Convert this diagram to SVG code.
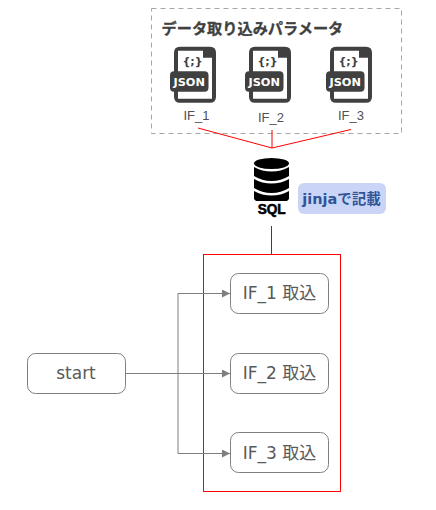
<svg xmlns="http://www.w3.org/2000/svg" width="436" height="510" viewBox="0 0 436 510">
<style>
.node{fill:#fff;stroke:#7f7f7f;stroke-width:1}
.lbl{font-family:"DejaVu Sans","Noto Sans CJK JP",sans-serif;font-size:17px;fill:#595959;text-anchor:middle}
.cap{font-family:"Liberation Sans",sans-serif;font-size:13px;fill:#505050;text-anchor:middle}
.red{fill:none;stroke:#f00;stroke-width:1}
.conn{fill:none;stroke:#7f7f7f;stroke-width:1}
.ic{fill:#404040}
</style>
<defs>
<marker id="arrow" markerUnits="userSpaceOnUse" markerWidth="9" markerHeight="8" refX="8" refY="4" orient="auto"><path d="M0 0L8 4L0 8Z" fill="#7f7f7f"/></marker>
<g id="json">
<path d="M4 0H36Q42 0 42 6V50Q42 56 36 56H6Q0 56 0 50V6Q0 0 6 0Z" class="ic"/>
<path d="M4 4H29V11H38V52H4Z" fill="#fff"/>
<rect x="-4" y="24.500" width="38.500" height="20.500" rx="4" class="ic"/>
<text x="15.200" y="39.300" font-family="DejaVu Sans,sans-serif" font-size="11.300" font-weight="700" fill="#fff" text-anchor="middle" textLength="31.500" lengthAdjust="spacingAndGlyphs">JSON</text>
<text x="18.500" y="18.500" font-family="DejaVu Sans,sans-serif" font-size="11" font-weight="700" fill="#404040" text-anchor="middle">{;}</text>
</g>
</defs>
<g id="params">
<rect x="151.500" y="8.500" width="250" height="125" fill="#fff" stroke="#a6a6a6" stroke-dasharray="5 4"/>
<text x="161.500" y="33.500" font-family="Noto Sans CJK JP,sans-serif" font-size="15.200" font-weight="700" fill="#404040" stroke="#404040" stroke-width=".3">データ取り込みパラメータ</text>
</g>
<g id="if1-file"><use href="#json" x="174" y="46.700"/><text class="cap" x="196.500" y="120">IF_1</text></g>
<g id="if2-file"><use href="#json" x="249" y="46.700"/><text class="cap" x="271" y="122">IF_2</text></g>
<g id="if3-file"><use href="#json" x="330" y="46.700"/><text class="cap" x="351" y="120">IF_3</text></g>
<g id="sql">
<ellipse cx="271.500" cy="163.500" rx="17.500" ry="5.500" fill="#000"/>
<path d="M254 167Q262 171.500 271.500 171.500T289 167V176Q281 181 271.500 181T254 176Z" fill="#000"/>
<path d="M254 179Q262 183.500 271.500 183.500T289 179V188Q281 193 271.500 193T254 188Z" fill="#000"/>
<path d="M254 191Q262 195.500 271.500 195.500T289 191V199L285 203H258L254 199Z" fill="#000"/>
<rect x="256" y="201" width="31" height="14" fill="#fff"/>
<text x="271.700" y="213.500" font-family="Liberation Sans,sans-serif" font-size="15" font-weight="700" fill="#000" stroke="#000" stroke-width=".6" text-anchor="middle" textLength="28" lengthAdjust="spacingAndGlyphs">SQL</text>
</g>
<g id="jinja-note">
<rect x="298" y="183" width="88" height="31" rx="6" fill="#c9d4f7"/>
<text x="341.500" y="204" font-family="DejaVu Sans,Noto Sans CJK JP,sans-serif" font-size="14.500" font-weight="700" fill="#2f5597" text-anchor="middle">jinjaで記載</text>
</g>
<g id="group-frame"><rect class="red" x="203.500" y="254.500" width="137" height="237"/></g>
<g id="connectors">
<path class="red" d="M198 128L272 148L351 129.500M272 130V148"/>
<path class="conn" style="stroke:#404040" d="M271.500 226V254.500"/>
<path class="conn" d="M125.500 373.500H230" marker-end="url(#arrow)"/>
<path class="conn" d="M178 373.500V293.500H230" marker-end="url(#arrow)"/>
<path class="conn" d="M178 373.500V453.500H230" marker-end="url(#arrow)"/>
</g>
<g id="start"><rect class="node" x="27.500" y="353.500" width="98" height="40" rx="8"/><text class="lbl" x="76" y="379">start</text></g>
<g id="if1"><rect class="node" x="230.500" y="273.500" width="98" height="40" rx="8"/><text class="lbl" x="279.500" y="299">IF_1 取込</text></g>
<g id="if2"><rect class="node" x="230.500" y="353.500" width="98" height="40" rx="8"/><text class="lbl" x="279.500" y="379">IF_2 取込</text></g>
<g id="if3"><rect class="node" x="230.500" y="432.500" width="98" height="40" rx="8"/><text class="lbl" x="279.500" y="459">IF_3 取込</text></g>
</svg>
